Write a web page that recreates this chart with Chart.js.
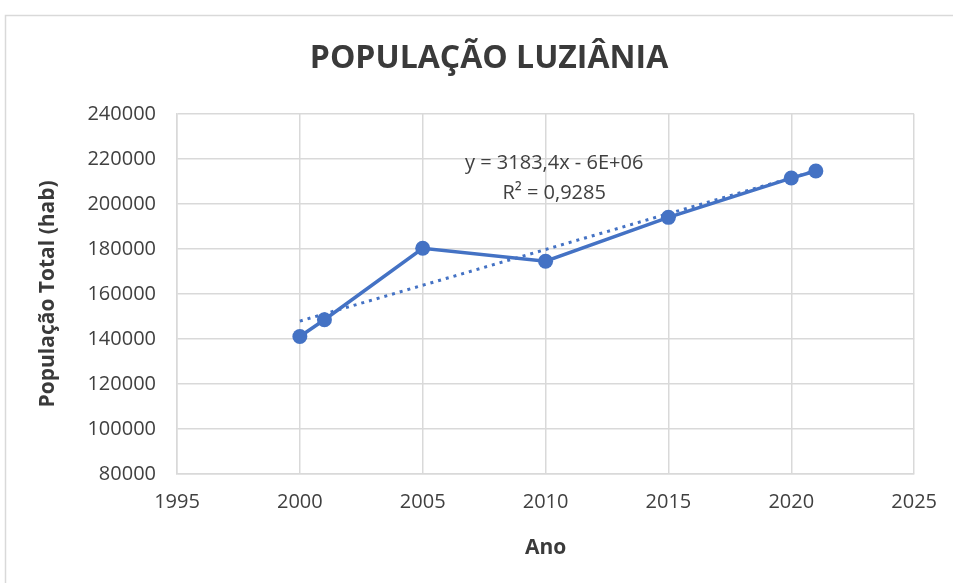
<!DOCTYPE html>
<html lang="pt-BR">
<head>
<meta charset="utf-8">
<title>População Luziânia</title>
<script src="https://cdn.jsdelivr.net/npm/chart.js@4/dist/chart.umd.min.js"></script>
<style>
  html, body { margin: 0; padding: 0; background: #ffffff; }
  #wrap { position: relative; width: 953px; height: 583px; }
</style>
</head>
<body>
<div id="wrap"><canvas id="chart" width="953" height="583"></canvas></div>
<script>
// Population of Luziânia (inhabitants) by year
const years = [2000, 2001, 2005, 2010, 2015, 2020, 2021];
const population = [141082, 148500, 180300, 174531, 194039, 211508, 214645];

// Linear trend as reported in the equation label
const trendSlope = 3183.4;
const trendR2 = 0.9285;

const xTicks = [1995, 2000, 2005, 2010, 2015, 2020, 2025];
const yTicks = [80000, 100000, 120000, 140000, 160000, 180000, 200000, 220000, 240000];

const chartTitle = 'POPULAÇÃO LUZIÂNIA';

const BLUE = '#4472C4';
const GRID = '#d9d9d9';
const TEXT = '#404040';
const FONT = "'Open Sans', 'Liberation Sans', sans-serif";

// Trend line anchored on the mean point of the series
const meanX = years.reduce((a, b) => a + b, 0) / years.length;
const meanY = population.reduce((a, b) => a + b, 0) / population.length;
const trendIntercept = meanY - trendSlope * meanX;
const trendYears = [years[0], years[years.length - 1]];
const trendPoints = trendYears.map(x => ({ x, y: trendSlope * x + trendIntercept }));

const fmtComma = v => String(v).replace('.', ',');
const equationText = 'y = ' + fmtComma(trendSlope) + 'x - 6E+06';
const r2Text = 'R² = ' + fmtComma(trendR2);

// Light frame around the chart object, plus the chart title centred on it
const framePlugin = {
  id: 'frame',
  beforeDraw(chart) {
    const ctx = chart.ctx;
    ctx.save();
    ctx.strokeStyle = GRID;
    ctx.lineWidth = 1.5;
    ctx.beginPath();
    ctx.moveTo(5.5, chart.height);
    ctx.lineTo(5.5, 15.5);
    ctx.lineTo(chart.width, 15.5);
    ctx.stroke();

    ctx.fillStyle = '#3a3a3a';
    ctx.font = 'bold 32px ' + FONT;
    ctx.textAlign = 'center';
    ctx.textBaseline = 'middle';
    ctx.fillText(chartTitle, 489, 59);
    ctx.restore();
  }
};

// Trend equation and R² label
const trendLabelPlugin = {
  id: 'trendLabel',
  afterDatasetsDraw(chart) {
    const { ctx, scales } = chart;
    const cx = scales.x.getPixelForValue(2010.35);
    const cy = scales.y.getPixelForValue(218300);
    ctx.save();
    ctx.fillStyle = TEXT;
    ctx.font = '20px ' + FONT;
    ctx.textAlign = 'center';
    ctx.textBaseline = 'middle';
    ctx.fillText(equationText, cx, cy);
    ctx.fillText(r2Text, cx, cy + 30);
    ctx.restore();
  }
};

new Chart(document.getElementById('chart'), {
  type: 'scatter',
  data: {
    datasets: [
      {
        label: 'População',
        data: years.map((x, i) => ({ x, y: population[i] })),
        showLine: true,
        borderColor: BLUE,
        backgroundColor: BLUE,
        borderWidth: 3.5,
        pointRadius: 7.5,
        pointHoverRadius: 7.5,
        pointBorderWidth: 0,
        order: 1
      },
      {
        label: 'Linear (População)',
        data: trendPoints,
        showLine: true,
        borderColor: BLUE,
        borderWidth: 3,
        borderDash: [3, 5],
        pointRadius: 0,
        order: 2
      }
    ]
  },
  options: {
    responsive: false,
    animation: false,
    layout: { padding: { left: 35, right: 38, top: 114, bottom: 22 } },
    plugins: {
      legend: { display: false },
      tooltip: { enabled: false },
      title: { display: false }
    },
    scales: {
      x: {
        type: 'linear',
        min: 1995,
        max: 2025,
        afterBuildTicks(scale) { scale.ticks = xTicks.map(v => ({ value: v })); },
        ticks: {
          color: TEXT,
          font: { family: FONT, size: 20 },
          padding: 16,
          callback: v => String(v)
        },
        grid: { color: GRID, lineWidth: 1.5, drawTicks: false },
        border: { color: GRID, width: 1.5 },
        title: {
          display: true,
          text: 'Ano',
          color: '#3a3a3a',
          font: { family: FONT, size: 21, weight: 'bold' },
          padding: { top: 6, bottom: 0 }
        }
      },
      y: {
        type: 'linear',
        min: 80000,
        max: 240000,
        afterBuildTicks(scale) { scale.ticks = yTicks.map(v => ({ value: v })); },
        afterFit(scale) { scale.width = 142; },
        ticks: {
          color: TEXT,
          font: { family: FONT, size: 20 },
          padding: 21,
          callback: v => String(v)
        },
        grid: { color: GRID, lineWidth: 1.5, drawTicks: false },
        border: { color: GRID, width: 1.5 },
        title: {
          display: true,
          text: 'População Total (hab)',
          color: '#3a3a3a',
          font: { family: FONT, size: 21, weight: 'bold' },
          padding: { top: 0, bottom: 8 }
        }
      }
    }
  },
  plugins: [framePlugin, trendLabelPlugin]
});
</script>
</body>
</html>
